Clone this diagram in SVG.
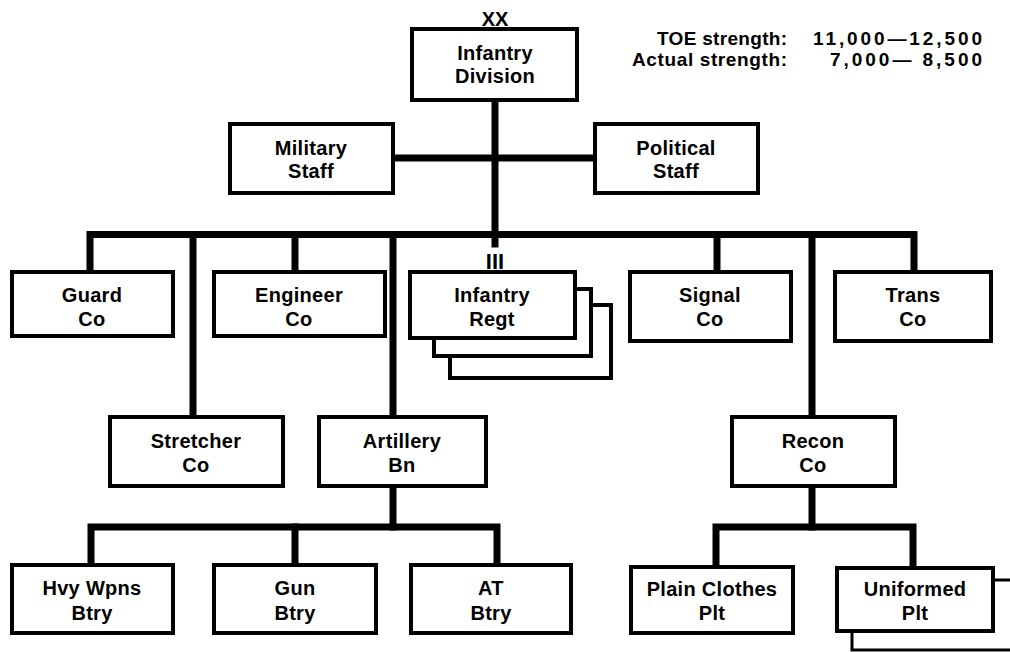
<svg xmlns="http://www.w3.org/2000/svg" width="1010" height="652" viewBox="0 0 1010 652">
<style>
.box{fill:#fff;stroke:#000;stroke-width:4}
.t{font-family:"Liberation Sans",Arial,sans-serif;font-weight:bold;font-size:20px;text-anchor:middle;fill:#000;letter-spacing:0.3px}
.n{font-family:"Liberation Sans",Arial,sans-serif;font-weight:bold;font-size:19px;fill:#000}
.c{fill:none;stroke:#000;stroke-width:7;stroke-linecap:square}
.thin{fill:none;stroke:#000;stroke-width:3}
</style>
<rect width="1010" height="652" fill="#fff"/>
<g id="connectors">
<path class="c" d="M495,102 V244"/>
<path class="c" d="M395,158 H593"/>
<path class="c" d="M90,270 V234.5 H914 V270"/>
<path class="c" d="M193,234.5 V415"/>
<path class="c" d="M295,234.5 V270"/>
<path class="c" d="M393,234.5 V415"/>
<path class="c" d="M717,234.5 V270"/>
<path class="c" d="M812,234.5 V415"/>
<path class="c" d="M393,488 V527"/>
<path class="c" d="M91,563 V527 H497 V563"/>
<path class="c" d="M295,527 V563"/>
<path class="c" d="M812,488 V527"/>
<path class="c" d="M716,565 V527 H913 V565"/>
<path class="thin" d="M995,580 H1010"/>
<path class="thin" d="M852,633 V650 H1010"/>
</g>
<g id="division">
<rect class="box" x="412" y="29" width="165" height="71"/>
<text class="t" x="495" y="26" style="letter-spacing:0">XX</text>
<text class="t" x="495" y="60">Infantry</text>
<text class="t" x="495" y="83">Division</text>
</g>
<g id="strength">
<text class="n" x="657" y="45" textLength="130" lengthAdjust="spacing">TOE strength:</text>
<text class="n" x="813" y="45" textLength="169" lengthAdjust="spacing">11,000—12,500</text>
<text class="n" x="632" y="66" textLength="155" lengthAdjust="spacing">Actual strength:</text>
<text class="n" x="830" y="66" textLength="152" lengthAdjust="spacing">7,000— 8,500</text>
</g>
<g id="military-staff">
<rect class="box" x="230" y="124" width="163" height="69"/>
<text class="t" x="311" y="155">Military</text>
<text class="t" x="311" y="178">Staff</text>
</g>
<g id="political-staff">
<rect class="box" x="595" y="124" width="163" height="69"/>
<text class="t" x="676" y="155">Political</text>
<text class="t" x="676" y="178">Staff</text>
</g>
<g id="guard-co">
<rect class="box" x="12" y="272" width="161" height="64"/>
<text class="t" x="92" y="302">Guard</text>
<text class="t" x="92" y="326">Co</text>
</g>
<g id="engineer-co">
<rect class="box" x="214" y="272" width="171" height="64"/>
<text class="t" x="299" y="302">Engineer</text>
<text class="t" x="299" y="326">Co</text>
</g>
<g id="infantry-regt">
<rect class="box" x="450" y="305" width="161" height="73"/>
<rect class="box" x="434" y="289" width="157" height="67"/>
<rect class="box" x="410" y="272" width="165" height="66"/>
<text class="t" x="495" y="269" style="font-size:22px;letter-spacing:0">III</text>
<text class="t" x="492" y="302">Infantry</text>
<text class="t" x="492" y="326">Regt</text>
</g>
<g id="signal-co">
<rect class="box" x="630" y="272" width="161" height="69"/>
<text class="t" x="710" y="302">Signal</text>
<text class="t" x="710" y="326">Co</text>
</g>
<g id="trans-co">
<rect class="box" x="835" y="272" width="156" height="69"/>
<text class="t" x="913" y="302">Trans</text>
<text class="t" x="913" y="326">Co</text>
</g>
<g id="stretcher-co">
<rect class="box" x="110" y="417" width="173" height="69"/>
<text class="t" x="196" y="448">Stretcher</text>
<text class="t" x="196" y="472">Co</text>
</g>
<g id="artillery-bn">
<rect class="box" x="319" y="417" width="167" height="69"/>
<text class="t" x="402" y="448">Artillery</text>
<text class="t" x="402" y="472">Bn</text>
</g>
<g id="recon-co">
<rect class="box" x="732" y="417" width="163" height="69"/>
<text class="t" x="813" y="448">Recon</text>
<text class="t" x="813" y="472">Co</text>
</g>
<g id="hvy-wpns-btry">
<rect class="box" x="12" y="565" width="161" height="68"/>
<text class="t" x="92" y="595">Hvy Wpns</text>
<text class="t" x="92" y="620">Btry</text>
</g>
<g id="gun-btry">
<rect class="box" x="214" y="565" width="162" height="68"/>
<text class="t" x="295" y="595">Gun</text>
<text class="t" x="295" y="620">Btry</text>
</g>
<g id="at-btry">
<rect class="box" x="411" y="565" width="160" height="68"/>
<text class="t" x="491" y="595">AT</text>
<text class="t" x="491" y="620">Btry</text>
</g>
<g id="plain-clothes-plt">
<rect class="box" x="631" y="567" width="162" height="66"/>
<text class="t" x="712" y="596">Plain Clothes</text>
<text class="t" x="712" y="620">Plt</text>
</g>
<g id="uniformed-plt">
<rect class="box" x="837" y="568" width="156" height="63"/>
<text class="t" x="915" y="596">Uniformed</text>
<text class="t" x="915" y="620">Plt</text>
</g>
</svg>
